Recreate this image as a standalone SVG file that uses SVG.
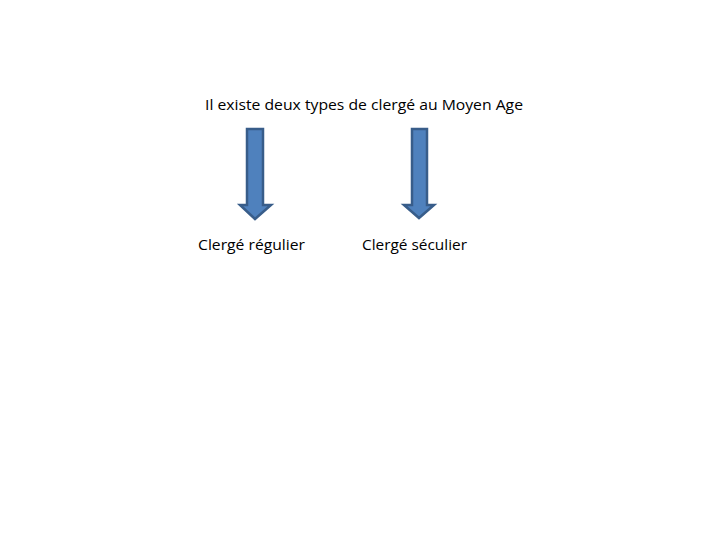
<svg xmlns="http://www.w3.org/2000/svg" width="720" height="540" viewBox="0 0 720 540">
<style>
.t{font-family:"Open Sans","Liberation Sans",sans-serif;font-size:15px;fill:#000}
.arr{fill:#4F81BD;stroke:#385D8A;stroke-width:2.5;stroke-linejoin:miter}
</style>
<rect width="720" height="540" fill="#fff"/>
<g id="title"><text class="t" x="205" y="110" textLength="318" lengthAdjust="spacingAndGlyphs">Il existe deux types de clergé au Moyen Age</text></g>
<g id="connectors">
<path class="arr" d="M247 129 H263 V205 H271 L255 219 L240 205 H247 Z"/>
<path class="arr" d="M412 129 H427 V205 H434 L419 218 L404 205 H412 Z"/>
</g>
<g id="regulier"><text class="t" x="198" y="250" textLength="107" lengthAdjust="spacingAndGlyphs">Clergé régulier</text></g>
<g id="seculier"><text class="t" x="362" y="250" textLength="105" lengthAdjust="spacingAndGlyphs">Clergé séculier</text></g>
</svg>
